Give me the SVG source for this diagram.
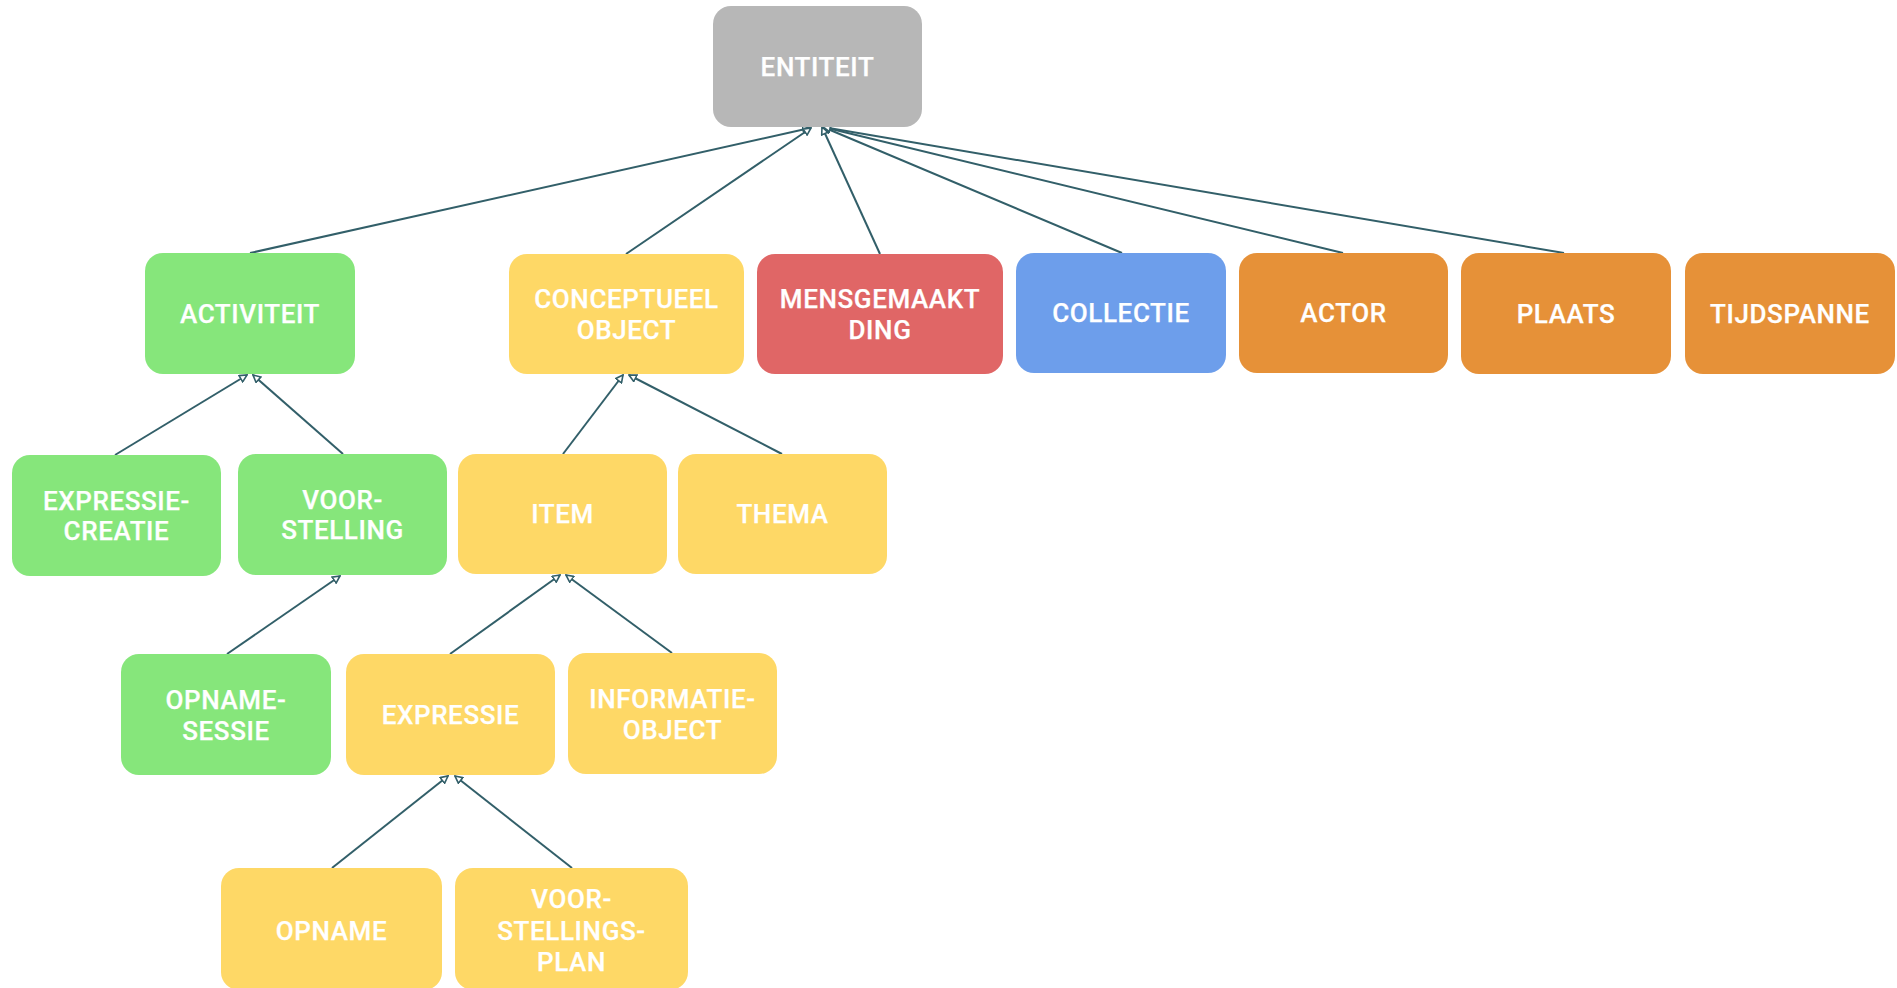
<svg xmlns="http://www.w3.org/2000/svg" width="1897" height="988" viewBox="0 0 1897 988">
<defs>
<marker id="arr" viewBox="0 0 10 10" markerUnits="userSpaceOnUse" markerWidth="9" markerHeight="9" refX="9" refY="5" orient="auto">
<path d="M1,1 L9,5 L1,9 z" fill="#ffffff" stroke="#325f69" stroke-width="1.8"/>
</marker>
<style>
.n rect{rx:18px;ry:18px}
.gray{fill:#b7b7b7}
.green{fill:#86e67b}
.yellow{fill:#fed866}
.red{fill:#e06666}
.blue{fill:#6d9eeb}
.orange{fill:#e69138}
text{font-family:Roboto,"Open Sans","Liberation Sans",sans-serif;font-weight:500;font-size:26px;fill:#ffffff;text-anchor:middle;letter-spacing:0.6px;stroke:#ffffff;stroke-width:0.25px}
#connectors line{stroke:#325f69;stroke-width:2;marker-end:url(#arr)}
</style>
</defs>
<rect width="1897" height="988" fill="#ffffff"/>
<g id="connectors">
<line x1="250" y1="253" x2="810" y2="128"/>
<line x1="626" y1="254" x2="811" y2="128"/>
<line x1="880" y1="254" x2="822" y2="127"/>
<line x1="1122" y1="253" x2="823" y2="127"/>
<line x1="1343" y1="253" x2="823" y2="127"/>
<line x1="1564" y1="253" x2="823" y2="127"/>
<line x1="115" y1="455" x2="247" y2="375"/>
<line x1="343" y1="454" x2="253" y2="375"/>
<line x1="563" y1="454" x2="623" y2="375"/>
<line x1="782" y1="454" x2="629" y2="375"/>
<line x1="227" y1="654" x2="340" y2="576"/>
<line x1="450" y1="654" x2="560" y2="575"/>
<line x1="672" y1="653" x2="566" y2="575"/>
<line x1="332" y1="868" x2="448" y2="776"/>
<line x1="572" y1="868" x2="455" y2="776"/>
</g>
<g id="entiteit" class="n"><rect class="gray" x="713" y="6" width="209" height="121"/><text x="817.5" y="76">ENTITEIT</text></g>
<g id="activiteit" class="n"><rect class="green" x="145" y="253" width="210" height="121"/><text x="250" y="323">ACTIVITEIT</text></g>
<g id="conceptueel-object" class="n"><rect class="yellow" x="509" y="254" width="235" height="120"/><text x="626.5" y="308">CONCEPTUEEL</text><text x="626.5" y="339">OBJECT</text></g>
<g id="mensgemaakt-ding" class="n"><rect class="red" x="757" y="254" width="246" height="120"/><text x="880" y="308">MENSGEMAAKT</text><text x="880" y="339">DING</text></g>
<g id="collectie" class="n"><rect class="blue" x="1016" y="253" width="210" height="120"/><text x="1121" y="322">COLLECTIE</text></g>
<g id="actor" class="n"><rect class="orange" x="1239" y="253" width="209" height="120"/><text x="1343.5" y="322">ACTOR</text></g>
<g id="plaats" class="n"><rect class="orange" x="1461" y="253" width="210" height="121"/><text x="1566" y="323">PLAATS</text></g>
<g id="tijdspanne" class="n"><rect class="orange" x="1685" y="253" width="210" height="121"/><text x="1790" y="323">TIJDSPANNE</text></g>
<g id="expressie-creatie" class="n"><rect class="green" x="12" y="455" width="209" height="121"/><text x="116.5" y="510">EXPRESSIE-</text><text x="116.5" y="540">CREATIE</text></g>
<g id="voorstelling" class="n"><rect class="green" x="238" y="454" width="209" height="121"/><text x="342.5" y="509">VOOR-</text><text x="342.5" y="539">STELLING</text></g>
<g id="item" class="n"><rect class="yellow" x="458" y="454" width="209" height="120"/><text x="562.5" y="523">ITEM</text></g>
<g id="thema" class="n"><rect class="yellow" x="678" y="454" width="209" height="120"/><text x="782.5" y="523">THEMA</text></g>
<g id="opname-sessie" class="n"><rect class="green" x="121" y="654" width="210" height="121"/><text x="226" y="709">OPNAME-</text><text x="226" y="740">SESSIE</text></g>
<g id="expressie" class="n"><rect class="yellow" x="346" y="654" width="209" height="121"/><text x="450.5" y="724">EXPRESSIE</text></g>
<g id="informatie-object" class="n"><rect class="yellow" x="568" y="653" width="209" height="121"/><text x="672.5" y="708">INFORMATIE-</text><text x="672.5" y="739">OBJECT</text></g>
<g id="opname" class="n"><rect class="yellow" x="221" y="868" width="221" height="122"/><text x="331.5" y="940">OPNAME</text></g>
<g id="voorstellingsplan" class="n"><rect class="yellow" x="455" y="868" width="233" height="122"/><text x="571.5" y="908">VOOR-</text><text x="571.5" y="940">STELLINGS-</text><text x="571.5" y="971">PLAN</text></g>
</svg>
